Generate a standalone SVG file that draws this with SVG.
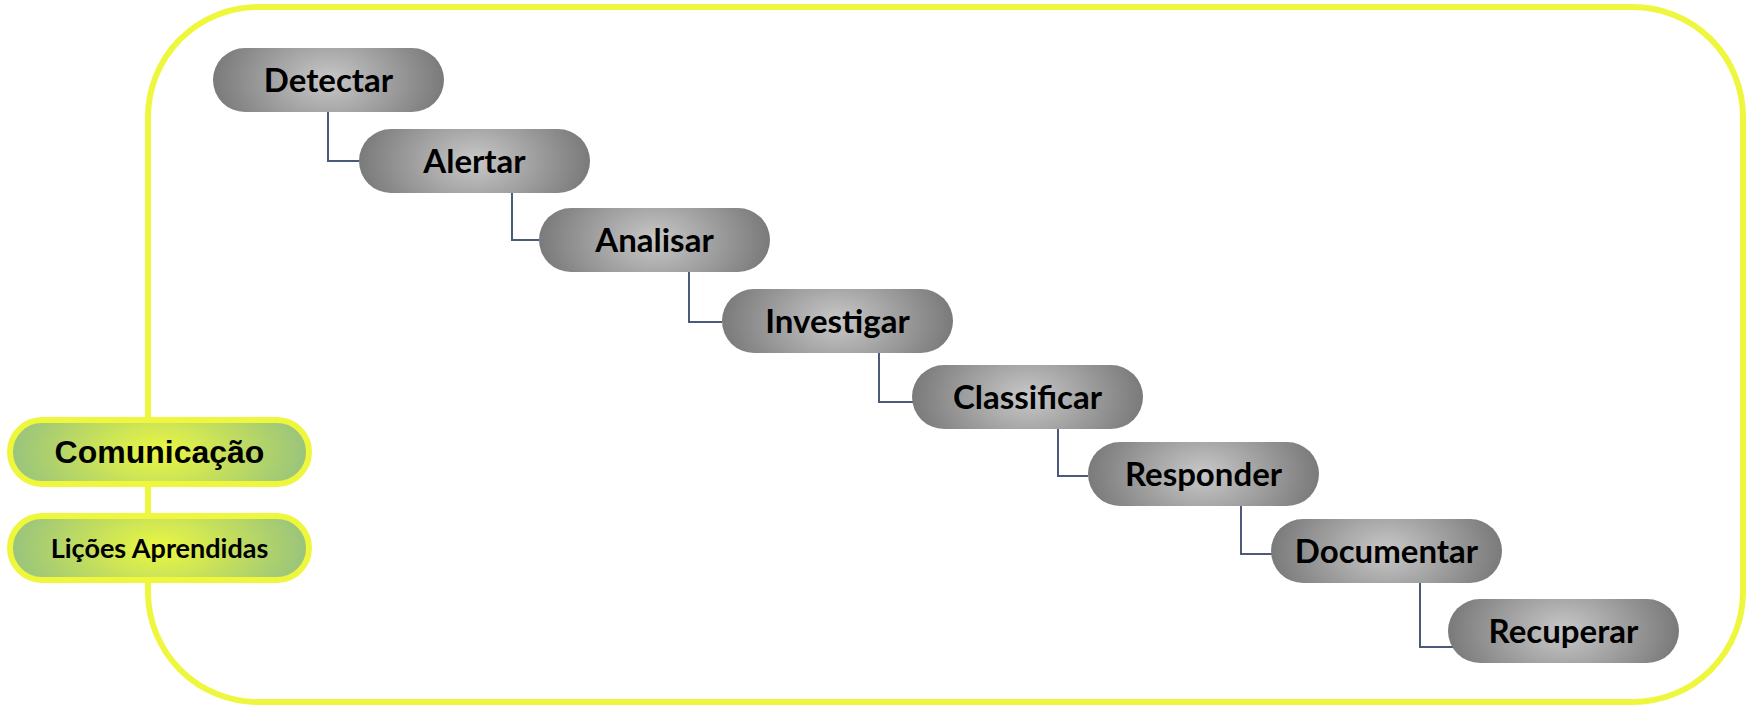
<svg xmlns="http://www.w3.org/2000/svg" width="1748" height="705" viewBox="0 0 1748 705">
<defs>
<radialGradient id="gGray" cx="0.5" cy="0.5" r="0.5" gradientTransform="translate(0.5,0.5) scale(1,2.4) translate(-0.5,-0.5)">
<stop offset="0" stop-color="#c8c8c8"/>
<stop offset="1" stop-color="#7a7a7a"/>
</radialGradient>
<radialGradient id="gGreen" cx="0.5" cy="0.5" r="0.5" gradientTransform="translate(0.5,0.5) scale(1,2.4) translate(-0.5,-0.5)">
<stop offset="0" stop-color="#ecf840"/>
<stop offset="1" stop-color="#98c37d"/>
</radialGradient>
<style>
.frame{fill:none;stroke:#eef73e;stroke-width:6}
.step rect{fill:url(#gGray)}
.step text{font-family:Lato,"Liberation Sans",sans-serif;font-weight:bold;font-size:33px;fill:#000;text-anchor:middle}
.side rect{fill:url(#gGreen);stroke:#eef73e;stroke-width:6}
.side text{font-weight:bold;fill:#000;text-anchor:middle}
.conn path{fill:none;stroke:#4b5a78;stroke-width:2}
</style>
</defs>
<rect class="frame" x="148" y="7" width="1595" height="695" rx="110" ry="110"/>
<g class="conn">
<path d="M328,112 V161 H359"/>
<path d="M512,193 V240 H539"/>
<path d="M689,272 V322 H722"/>
<path d="M879,353 V402 H913"/>
<path d="M1058,429 V476 H1088"/>
<path d="M1241,506 V554 H1272"/>
<path d="M1420,583 V647 H1453"/>
</g>
<g id="detectar" class="step"><rect x="213" y="48" width="231" height="64" rx="32"/><text x="328.5" y="92">Detectar</text></g>
<g id="alertar" class="step"><rect x="359" y="129" width="231" height="64" rx="32"/><text x="474.5" y="173">Alertar</text></g>
<g id="analisar" class="step"><rect x="539" y="208" width="231" height="64" rx="32"/><text x="654.5" y="252">Analisar</text></g>
<g id="investigar" class="step"><rect x="722" y="289" width="231" height="64" rx="32"/><text x="837.5" y="333">Investigar</text></g>
<g id="classificar" class="step"><rect x="912" y="365" width="231" height="64" rx="32"/><text x="1027.5" y="409">Classificar</text></g>
<g id="responder" class="step"><rect x="1088" y="442" width="231" height="64" rx="32"/><text x="1203.5" y="486">Responder</text></g>
<g id="documentar" class="step"><rect x="1271" y="519" width="231" height="64" rx="32"/><text x="1386.5" y="563">Documentar</text></g>
<g id="recuperar" class="step"><rect x="1448" y="599" width="231" height="64" rx="32"/><text x="1563.5" y="643">Recuperar</text></g>
<g id="comunicacao" class="side"><rect x="10" y="420" width="299" height="64" rx="32"/><text x="159.5" y="463" style="font-family:'Liberation Sans',Arial,sans-serif;font-size:32px">Comunicação</text></g>
<g id="licoes" class="side"><rect x="10" y="516" width="299" height="64" rx="32"/><text x="159.5" y="558" style="font-family:Lato,'Liberation Sans',sans-serif;font-size:27px">Lições Aprendidas</text></g>
</svg>
